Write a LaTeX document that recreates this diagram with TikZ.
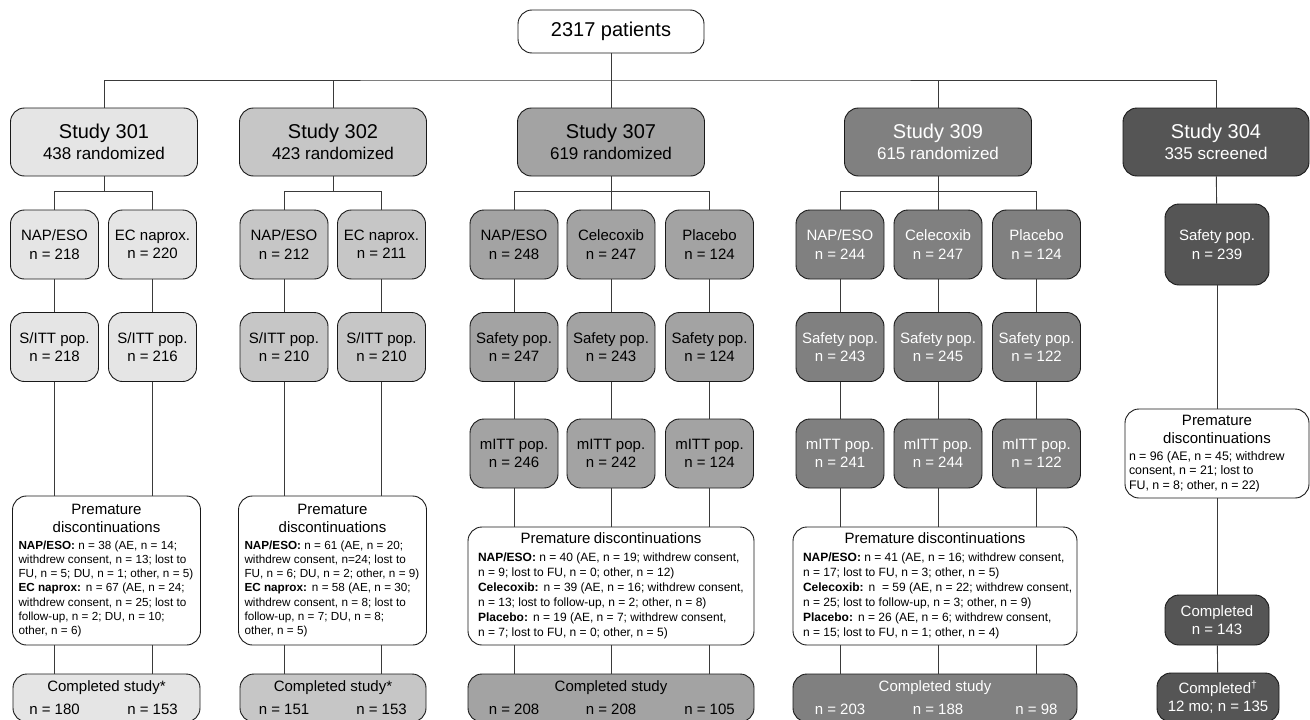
\documentclass[tikz,border=0pt]{standalone}
\usepackage{fontspec}
\setmainfont{Liberation Sans}
\usetikzlibrary{calc}
\definecolor{cA}{HTML}{E5E5E5}
\definecolor{cB}{HTML}{C6C6C6}
\definecolor{cC}{HTML}{A3A3A3}
\definecolor{cD}{HTML}{808080}
\definecolor{cE}{HTML}{555555}
\definecolor{lc}{HTML}{3A3A3A}
\newcommand{\fsz}[2]{\fontsize{#1}{#2}\selectfont}
\newcommand{\disctitle}[1]{{\fsz{15}{18}\centering #1\par}\vspace{2.7pt}}
\begin{document}
\begin{tikzpicture}[x=1pt,y=-1pt,
  bx/.style={draw=black!90, line width=0.9pt, rounded corners=14pt, inner sep=0pt, align=center, text=black},
  studybox/.style={bx, minimum width=187pt, minimum height=68pt, font=\fsz{17}{21}},
  armbox/.style={bx, minimum width=88pt, minimum height=69pt, font=\fsz{15}{18.5}},
  discbox/.style={draw=black!90, line width=0.9pt, rounded corners=14pt, fill=white, inner xsep=6pt, inner ysep=0pt, text=black},
  compbox/.style={bx, minimum height=48pt},
  fA/.style={fill=cA}, fB/.style={fill=cB}, fC/.style={fill=cC},
  fD/.style={fill=cD,text=white}, fE/.style={fill=cE,text=white},
  conn/.style={draw=lc, line width=0.9pt},
  lbl/.style={inner sep=0pt, font=\fsz{15}{18}}
]
\useasboundingbox[fill=white] (0,0) rectangle (1310,720);

% top
\node[bx, fill=white, minimum width=186pt, minimum height=43pt, font=\fsz{20}{24}] (top) at (611,31.5) {2317 patients};

% studies
\node[studybox,fA] (s301) at (104,142) {{\fsz{20}{21}Study 301}\\438 randomized};
\node[studybox,fB] (s302) at (333,142) {{\fsz{20}{21}Study 302}\\423 randomized};
\node[studybox,fC] (s307) at (611,142) {{\fsz{20}{21}Study 307}\\619 randomized};
\node[studybox,fD] (s309) at (938,142) {{\fsz{20}{21}Study 309}\\615 randomized};
\node[studybox,fE,minimum width=186pt] (s304) at (1216,142) {{\fsz{20}{21}Study 304}\\335 screened};

% arms
\node[armbox,fA] (a301n) at (54.5,244.5) {NAP/ESO\\n = 218};
\node[armbox,fA] (a301e) at (152.5,244.5) {EC naprox.\\n = 220};
\node[armbox,fB] (a302n) at (284,244.5) {NAP/ESO\\n = 212};
\node[armbox,fB] (a302e) at (381.5,244.5) {EC naprox.\\n = 211};
\node[armbox,fC] (a307n) at (514,244.5) {NAP/ESO\\n = 248};
\node[armbox,fC] (a307c) at (611,244.5) {Celecoxib\\n = 247};
\node[armbox,fC] (a307p) at (709.5,244.5) {Placebo\\n = 124};
\node[armbox,fD] (a309n) at (840,244.5) {NAP/ESO\\n = 244};
\node[armbox,fD] (a309c) at (938,244.5) {Celecoxib\\n = 247};
\node[armbox,fD] (a309p) at (1036.5,244.5) {Placebo\\n = 124};
\node[armbox,fE,minimum width=104pt,minimum height=81pt] (saf304) at (1217,244.5) {Safety pop.\\n = 239};

% second row
\node[armbox,fA] (r301n) at (54.5,347) {S/ITT pop.\\n = 218};
\node[armbox,fA] (r301e) at (152.5,347) {S/ITT pop.\\n = 216};
\node[armbox,fB] (r302n) at (284,347) {S/ITT pop.\\n = 210};
\node[armbox,fB] (r302e) at (381.5,347) {S/ITT pop.\\n = 210};
\node[armbox,fC] (r307n) at (514,347) {Safety pop.\\n = 247};
\node[armbox,fC] (r307c) at (611,347) {Safety pop.\\n = 243};
\node[armbox,fC] (r307p) at (709.5,347) {Safety pop.\\n = 124};
\node[armbox,fD] (r309n) at (840,347) {Safety pop.\\n = 243};
\node[armbox,fD] (r309c) at (938,347) {Safety pop.\\n = 245};
\node[armbox,fD] (r309p) at (1036.5,347) {Safety pop.\\n = 122};

% third row
\node[armbox,fC] (m307n) at (514,453.5) {mITT pop.\\n = 246};
\node[armbox,fC] (m307c) at (611,453.5) {mITT pop.\\n = 242};
\node[armbox,fC] (m307p) at (709.5,453.5) {mITT pop.\\n = 124};
\node[armbox,fD] (m309n) at (840,453.5) {mITT pop.\\n = 241};
\node[armbox,fD] (m309c) at (938,453.5) {mITT pop.\\n = 244};
\node[armbox,fD] (m309p) at (1036.5,453.5) {mITT pop.\\n = 122};

% discontinuations
\node[discbox, text width=176pt, minimum height=149pt] (d301) at (106.5,570.5) {\parindent=0pt\disctitle{Premature\\discontinuations}%
{\fsz{11.7}{14.3}\raggedright\textbf{NAP/ESO:} n = 38 (AE, n = 14;\\withdrew consent, n = 13; lost to\\FU, n = 5; DU, n = 1; other, n = 5)\\\textbf{EC naprox:} n = 67 (AE, n = 24;\\withdrew consent, n = 25; lost to\\follow-up, n = 2; DU, n = 10;\\other, n = 6)\par}};
\node[discbox, text width=176pt, minimum height=149pt] (d302) at (332.5,570.5) {\parindent=0pt\disctitle{Premature\\discontinuations}%
{\fsz{11.7}{14.3}\raggedright\textbf{NAP/ESO:} n = 61 (AE, n = 20;\\withdrew consent, n=24; lost to\\FU, n = 6; DU, n = 2; other, n = 9)\\\textbf{EC naprox:} n = 58 (AE, n = 30;\\withdrew consent, n = 8; lost to\\follow-up, n = 7; DU, n = 8;\\other, n = 5)\par}};
\node[discbox, inner xsep=4pt, text width=278pt, minimum height=118pt] (d307) at (611,586) {\parindent=0pt\disctitle{Premature discontinuations}%
{\fsz{12}{15}\raggedright\leftskip=6pt\textbf{NAP/ESO:} n = 40 (AE, n = 19; withdrew consent,\\n = 9; lost to FU, n = 0; other, n = 12)\\\textbf{Celecoxib:} n = 39 (AE, n = 16; withdrew consent,\\n = 13; lost to follow-up, n = 2; other, n = 8)\\\textbf{Placebo:} n = 19 (AE, n = 7; withdrew consent,\\n = 7; lost to FU, n = 0; other, n = 5)\par}};
\node[discbox, inner xsep=4pt, text width=276pt, minimum height=118pt] (d309) at (935,586) {\parindent=0pt\disctitle{Premature discontinuations}%
{\fsz{12}{15}\raggedright\leftskip=6pt\textbf{NAP/ESO:} n = 41 (AE, n = 16; withdrew consent,\\n = 17; lost to FU, n = 3; other, n = 5)\\\textbf{Celecoxib:} n\ \ = 59 (AE, n = 22; withdrew consent,\\n = 25; lost to follow-up, n = 3; other, n = 9)\\\textbf{Placebo:} n = 26 (AE, n = 6; withdrew consent,\\n = 15; lost to FU, n = 1; other, n = 4)\par}};
\node[discbox, inner xsep=4pt, text width=176pt, minimum height=89pt] (d304) at (1217,453.5) {\parindent=0pt\disctitle{Premature\\discontinuations}%
{\fsz{12.4}{14.5}\raggedright n = 96 (AE, n = 45; withdrew\\consent, n = 21; lost to\\FU, n = 8; other, n = 22)\par}};

% completed
\node[compbox,fA,minimum width=187pt] (c301) at (106.5,698) {};
\node[compbox,fB,minimum width=186pt] (c302) at (333,698) {};
\node[compbox,fC,minimum width=286pt] (c307) at (611,698) {};
\node[compbox,fD,minimum width=284pt] (c309) at (935,698) {};
\node[bx,fE,minimum width=104pt,minimum height=50pt,font=\fsz{15}{18}] (c304) at (1217,620) {Completed\\n = 143};
\node[bx,fE,minimum width=122pt,minimum height=49pt,font=\fsz{15}{18}] (cb304) at (1218,697.5) {Completed\textsuperscript{†}\\12 mo; n = 135};

\node[lbl] (t301) at (106.5,688) {Completed study*};
\node[lbl] (t301n) at (54.5,709) {n = 180};
\node[lbl] (t301e) at (152.5,709) {n = 153};
\node[lbl] (t302) at (333,688) {Completed study*};
\node[lbl] (t302n) at (284,709) {n = 151};
\node[lbl] (t302e) at (381.5,709) {n = 153};
\node[lbl] (t307) at (611,688) {Completed study};
\node[lbl] (t307n) at (514,709) {n = 208};
\node[lbl] (t307c) at (611,709) {n = 208};
\node[lbl] (t307p) at (709.5,709) {n = 105};
\node[lbl,text=white] (t309) at (935,688) {Completed study};
\node[lbl,text=white] (t309n) at (840,709) {n = 203};
\node[lbl,text=white] (t309c) at (938,709) {n = 188};
\node[lbl,text=white] (t309p) at (1036.5,709) {n = 98};

% connectors: top level
\coordinate (bus) at (611,80);
\draw[conn] (top.south) -- (s307.north);
\draw[conn] (s301.north) |- (bus) -| (s304.north);
\draw[conn] (s302.north) -- (s302.north |- bus);
\draw[conn] (s309.north) -- (s309.north |- bus);

% study to arms
\coordinate (b301) at ($(s301.south)+(0,15)$);
\coordinate (b302) at ($(s302.south)+(0,15)$);
\coordinate (b307) at ($(s307.south)+(0,15)$);
\coordinate (b309) at ($(s309.south)+(0,15)$);
\draw[conn] (s301.south) -- (b301);
\draw[conn] (a301n.north) |- (b301) -| (a301e.north);
\draw[conn] (s302.south) -- (b302);
\draw[conn] (a302n.north) |- (b302) -| (a302e.north);
\draw[conn] (s307.south) -- (a307c.north);
\draw[conn] (a307n.north) |- (b307) -| (a307p.north);
\draw[conn] (s309.south) -- (a309c.north);
\draw[conn] (a309n.north) |- (b309) -| (a309p.north);
\draw[conn] (s304) -- (saf304);

% arms to rows
\foreach \a/\b in {a301n/r301n,a301e/r301e,a302n/r302n,a302e/r302e,a307n/r307n,a307c/r307c,a307p/r307p,a309n/r309n,a309c/r309c,a309p/r309p,r307n/m307n,r307c/m307c,r307p/m307p,r309n/m309n,r309c/m309c,r309p/m309p}
  \draw[conn] (\a) -- (\b);

% to discontinuation boxes and completed
\foreach \r/\d/\c in {r301n/d301/c301,r301e/d301/c301,r302n/d302/c302,r302e/d302/c302,m307n/d307/c307,m307c/d307/c307,m307p/d307/c307,m309n/d309/c309,m309c/d309/c309,m309p/d309/c309}{
  \draw[conn] (\r.south) -- (\r.south |- \d.north);
  \draw[conn] (\r.south |- \d.south) -- (\r.south |- \c.north);
}
\draw[conn] (saf304) -- (d304);
\draw[conn] (d304) -- (c304);
\draw[conn] (c304) -- (cb304);
\end{tikzpicture}
\end{document}
